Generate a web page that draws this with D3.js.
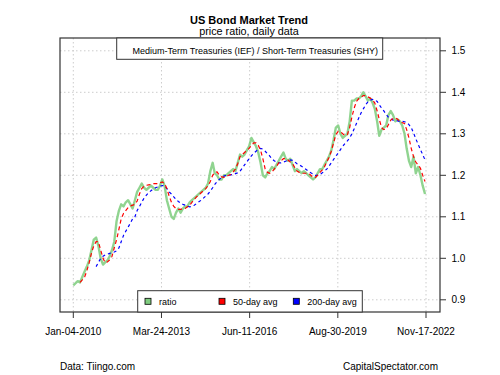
<!DOCTYPE html>
<html>
<head>
<meta charset="utf-8">
<script src="https://cdn.jsdelivr.net/npm/d3@7"></script>
<style>
  body { margin: 0; background: #fff; }
  svg { font-family: "Liberation Sans", Arial, sans-serif; }
</style>
</head>
<body>
<svg id="chart"></svg>
<script>
// monthly readings, first one on Jan-04-2010
const startDate = "2010-01-04"

const ratio = [
  0.935, 0.94, 0.945, 0.942, 0.955, 0.968, 0.98, 0.995, 1.02, 1.045,
  1.05, 1.03, 1.0, 0.985, 0.99, 0.995, 1.005, 1.02, 1.04, 1.09,
  1.115, 1.13, 1.125, 1.135, 1.14, 1.13, 1.12, 1.14, 1.16, 1.17,
  1.18, 1.17, 1.165, 1.17, 1.175, 1.17, 1.165, 1.165, 1.175, 1.19,
  1.175, 1.14, 1.12, 1.1, 1.095, 1.11, 1.12, 1.11, 1.12, 1.125,
  1.125, 1.135, 1.14, 1.145, 1.15, 1.155, 1.16, 1.165, 1.17, 1.18,
  1.21, 1.23, 1.205, 1.2, 1.19, 1.19, 1.2, 1.2, 1.205, 1.21,
  1.215, 1.21, 1.23, 1.25, 1.245, 1.25, 1.26, 1.27, 1.29, 1.28,
  1.27, 1.255, 1.23, 1.2, 1.195, 1.205, 1.21, 1.22, 1.215, 1.225,
  1.235, 1.245, 1.255, 1.24, 1.235, 1.24, 1.225, 1.21, 1.215, 1.21,
  1.205, 1.21, 1.205, 1.2, 1.195, 1.19, 1.195, 1.205, 1.215, 1.215,
  1.225, 1.235, 1.245, 1.26, 1.285, 1.315, 1.32, 1.3, 1.29, 1.295,
  1.3, 1.33, 1.38, 1.38, 1.385, 1.385, 1.39, 1.4, 1.39, 1.38,
  1.385, 1.375, 1.36, 1.33, 1.295, 1.31, 1.315, 1.32, 1.345, 1.355,
  1.345, 1.33, 1.335, 1.33, 1.32, 1.3, 1.265, 1.235, 1.22, 1.245,
  1.205, 1.22, 1.2, 1.175, 1.155
]

const ma50 = [
  null, null, null, 0.942, 0.948, 0.955, 0.97, 0.99, 1.013, 1.03,
  1.04, 1.04, 1.02, 1.0, 0.99, 0.991, 0.996, 1.005, 1.025, 1.045,
  1.07, 1.095, 1.108, 1.115, 1.122, 1.126, 1.128, 1.13, 1.138, 1.155,
  1.168, 1.174, 1.176, 1.177, 1.178, 1.18, 1.18, 1.18, 1.182, 1.184,
  1.18, 1.168, 1.15, 1.135, 1.125, 1.12, 1.118, 1.118, 1.12, 1.12,
  1.124, 1.128, 1.135, 1.142, 1.148, 1.153, 1.158, 1.163, 1.168, 1.175,
  1.185, 1.2, 1.207, 1.208, 1.2, 1.196, 1.195, 1.197, 1.2, 1.202,
  1.208, 1.215, 1.228, 1.245, 1.25, 1.255, 1.26, 1.265, 1.272, 1.278,
  1.278, 1.272, 1.26, 1.24, 1.215, 1.207, 1.205, 1.208, 1.215, 1.222,
  1.23, 1.235, 1.24, 1.24, 1.237, 1.232, 1.228, 1.218, 1.21, 1.207,
  1.205, 1.205, 1.205, 1.205, 1.2, 1.195, 1.195, 1.2, 1.207, 1.213,
  1.22, 1.232, 1.243, 1.258, 1.278, 1.298, 1.306, 1.305, 1.3, 1.296,
  1.298, 1.315, 1.34, 1.362, 1.378, 1.385, 1.388, 1.392, 1.392, 1.389,
  1.386, 1.382, 1.374, 1.355, 1.335, 1.315, 1.31, 1.312, 1.322, 1.333,
  1.337, 1.338, 1.335, 1.33, 1.327, 1.325, 1.31, 1.29, 1.265, 1.245,
  1.232, 1.225, 1.217, 1.2, 1.185
]

const ma200 = [
  null, null, null, null, null, null, null, null, null, null,
  0.98, 0.99, 1.0, 1.005, 1.008, 1.01, 1.012, 1.013, 1.015, 1.018,
  1.025, 1.04, 1.055, 1.065, 1.075, 1.085, 1.095, 1.1, 1.115, 1.125,
  1.135, 1.145, 1.152, 1.158, 1.163, 1.167, 1.17, 1.172, 1.174, 1.175,
  1.175, 1.168, 1.16, 1.155, 1.148, 1.142, 1.137, 1.133, 1.13, 1.128,
  1.126, 1.124, 1.125, 1.128, 1.132, 1.136, 1.14, 1.145, 1.15, 1.155,
  1.162, 1.17, 1.178, 1.185, 1.19, 1.195, 1.198, 1.2, 1.2, 1.201,
  1.202, 1.204, 1.206, 1.21, 1.217, 1.225, 1.232, 1.24, 1.247, 1.253,
  1.258, 1.262, 1.265, 1.263, 1.258, 1.252, 1.247, 1.24, 1.235, 1.232,
  1.23, 1.23, 1.232, 1.234, 1.236, 1.237, 1.236, 1.232, 1.228, 1.225,
  1.222, 1.218, 1.214, 1.21, 1.206, 1.203, 1.2, 1.2, 1.202, 1.206,
  1.21, 1.215, 1.222, 1.23, 1.238, 1.246, 1.254, 1.262, 1.27, 1.277,
  1.283, 1.29, 1.3, 1.312, 1.325, 1.338, 1.35, 1.36, 1.37, 1.377,
  1.381, 1.383, 1.382, 1.378, 1.37, 1.362, 1.355, 1.347, 1.34, 1.336,
  1.333, 1.332, 1.331, 1.33, 1.33, 1.329, 1.327, 1.322, 1.315, 1.302,
  1.288, 1.275, 1.262, 1.25, 1.237
]

const tickDates = ["2010-01-04", "2013-03-24", "2016-06-11", "2019-08-30", "2022-11-17"]
const tickLabels = ["Jan-04-2010", "Mar-24-2013", "Jun-11-2016", "Aug-30-2019", "Nov-17-2022"]
const yTicks = [0.9, 1.0, 1.1, 1.2, 1.3, 1.4, 1.5]
const legendNames = ["ratio", "50-day avg", "200-day avg"]
const legendColors = ["#7fcc7f", "#ff0000", "#0000ff"]

const width = 500, height = 375
const box = {left: 60, right: 440, top: 38, bottom: 312}

const parse = d3.timeParse("%Y-%m-%d")
const t0 = parse(startDate)
const dates = ratio.map((d, i) => d3.timeMonth.offset(t0, i))

const x = d3.scaleTime()
    .domain([parse(tickDates[0]), parse(tickDates[tickDates.length - 1])])
    .range([73.3, 426])
const y = d3.scaleLinear()
    .domain([0.9, 1.5])
    .range([299.8, 50.8])

const svg = d3.select("#chart")
    .attr("width", width)
    .attr("height", height)

// grid
const grid = svg.append("g")
    .attr("stroke", "#cccccc")
    .attr("stroke-dasharray", "1.5,2.5")
    .attr("stroke-width", 1)
grid.selectAll("line.h")
    .data(yTicks)
    .enter().append("line")
    .attr("x1", box.left).attr("x2", box.right)
    .attr("y1", d => y(d)).attr("y2", d => y(d))
grid.selectAll("line.v")
    .data(tickDates)
    .enter().append("line")
    .attr("x1", d => x(parse(d))).attr("x2", d => x(parse(d)))
    .attr("y1", box.top).attr("y2", box.bottom)

// series
const line = arr => d3.line()
    .defined((d, i) => arr[i] != null)
    .x((d, i) => x(dates[i]))
    .y((d, i) => y(arr[i]))(arr)

svg.append("path")
    .attr("d", line(ratio))
    .attr("fill", "none")
    .attr("stroke", "#7ccc7c")
    .attr("stroke-opacity", 0.85)
    .attr("stroke-width", 2.4)
    .attr("stroke-linejoin", "round")

svg.append("path")
    .attr("d", line(ma200))
    .attr("fill", "none")
    .attr("stroke", "#0000ff")
    .attr("stroke-width", 1.2)
    .attr("stroke-dasharray", "3,3")

svg.append("path")
    .attr("d", line(ma50))
    .attr("fill", "none")
    .attr("stroke", "#ff0000")
    .attr("stroke-width", 1.2)
    .attr("stroke-dasharray", "4,3")

// frame
svg.append("rect")
    .attr("x", box.left).attr("y", box.top)
    .attr("width", box.right - box.left).attr("height", box.bottom - box.top)
    .attr("fill", "none")
    .attr("stroke", "#333")
    .attr("stroke-width", 1.2)

// x axis
const xAxis = svg.append("g")
xAxis.selectAll("line")
    .data(tickDates)
    .enter().append("line")
    .attr("x1", d => x(parse(d))).attr("x2", d => x(parse(d)))
    .attr("y1", box.bottom).attr("y2", box.bottom + 6)
    .attr("stroke", "#333")
xAxis.selectAll("text")
    .data(tickDates)
    .enter().append("text")
    .attr("x", d => x(parse(d)))
    .attr("y", 334.5)
    .attr("text-anchor", "middle")
    .style("font-size", "10px")
    .text((d, i) => tickLabels[i])

// y axis, right side
const yAxis = svg.append("g")
yAxis.selectAll("line")
    .data(yTicks)
    .enter().append("line")
    .attr("x1", box.right).attr("x2", box.right + 6)
    .attr("y1", d => y(d)).attr("y2", d => y(d))
    .attr("stroke", "#333")
yAxis.selectAll("text")
    .data(yTicks)
    .enter().append("text")
    .attr("x", 451.5)
    .attr("y", d => y(d))
    .attr("dy", "0.35em")
    .style("font-size", "10px")
    .text(d => d.toFixed(1))

// titles
svg.append("text")
    .attr("x", 249).attr("y", 23.5)
    .attr("text-anchor", "middle")
    .style("font-size", "11px")
    .style("font-weight", "bold")
    .text("US Bond Market Trend")
svg.append("text")
    .attr("x", 249).attr("y", 34.5)
    .attr("text-anchor", "middle")
    .style("font-size", "10.8px")
    .text("price ratio, daily data")

// series name box
svg.append("rect")
    .attr("x", 116.7).attr("y", box.top)
    .attr("width", 266).attr("height", 21.3)
    .attr("fill", "#fff")
    .attr("stroke", "#333")
    .attr("stroke-width", 1)
svg.append("text")
    .attr("x", 378).attr("y", 53.5)
    .attr("text-anchor", "end")
    .style("font-size", "9px")
    .text("Medium-Term Treasuries (IEF) / Short-Term Treasuries (SHY)")

// legend
const legend = svg.append("g")
legend.append("rect")
    .attr("x", 137.7).attr("y", 290.7)
    .attr("width", 224.6).attr("height", box.bottom - 290.7)
    .attr("fill", "#fff")
    .attr("stroke", "#333")
    .attr("stroke-width", 1)
const legendX = [148, 222, 296.3]
const items = legend.selectAll("g.item")
    .data(legendNames)
    .enter().append("g")
    .attr("transform", (d, i) => `translate(${legendX[i]},301.3)`)
items.append("rect")
    .attr("x", -3).attr("y", -3)
    .attr("width", 6).attr("height", 6)
    .attr("fill", (d, i) => legendColors[i])
    .attr("stroke", "#000")
    .attr("stroke-width", 0.8)
items.append("text")
    .attr("x", 11)
    .attr("y", 3.3)
    .style("font-size", "9px")
    .text(d => d)

// footer
svg.append("text")
    .attr("x", 60).attr("y", 370)
    .style("font-size", "10px")
    .text("Data: Tiingo.com")
svg.append("text")
    .attr("x", 438).attr("y", 370)
    .attr("text-anchor", "end")
    .style("font-size", "10px")
    .text("CapitalSpectator.com")
</script>
</body>
</html>
